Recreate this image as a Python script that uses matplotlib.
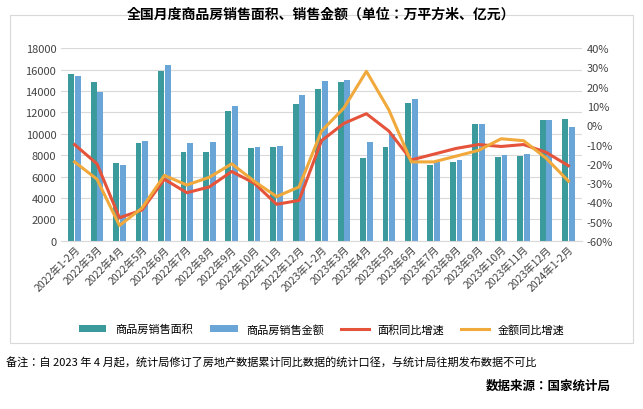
import matplotlib
matplotlib.use("Agg")
import matplotlib.pyplot as plt
import numpy as np
from matplotlib.ticker import FuncFormatter
from matplotlib import font_manager

names = {f.name for f in font_manager.fontManager.ttflist}
cands = [n for n in ["Noto Sans CJK SC", "Noto Sans CJK JP", "Noto Sans CJK TC", "Noto Sans CJK KR", "Noto Sans SC"] if n in names]
if not cands:
    cands = [f.name for f in font_manager.fontManager.ttflist if "CJK" in f.name][:1]
plt.rcParams['font.family'] = cands + ['DejaVu Sans']

categories = ["2022年1-2月","2022年3月","2022年4月","2022年5月","2022年6月","2022年7月","2022年8月","2022年9月","2022年10月","2022年11月","2022年12月",
              "2023年1-2月","2023年3月","2023年4月","2023年5月","2023年6月","2023年7月","2023年8月","2023年9月","2023年10月","2023年11月","2023年12月","2024年1-2月"]
area = [15600,14800,7300,9100,15900,8300,8300,12100,8700,8800,12800,14200,14800,7700,8800,12900,7100,7400,10900,7800,7900,11300,11400]
sales = [15400,13900,7100,9300,16400,9100,9200,12600,8800,8900,13600,14900,15000,9200,10000,13300,7400,7600,10900,8000,8100,11300,10600]
area_yoy = [-10,-20,-48,-44,-28,-35,-32,-24,-30,-41,-39,-8,1,6,-3,-18,-15,-12,-10,-11,-10,-14,-21]
sales_yoy = [-19,-28,-52,-43,-26,-31,-27,-20,-29,-37,-32,-3,9,28,8,-19,-19,-16,-13,-7,-8,-17,-29]

fig = plt.figure(figsize=(6.43,4.10), dpi=100)
ax = fig.add_axes([0.095, 0.41, 0.81, 0.47])
x = np.arange(len(categories))
w = 0.26
b1 = ax.bar(x - 0.15, area, w, color='#3a9a9c', label='商品房销售面积', zorder=2)
b2 = ax.bar(x + 0.15, sales, w, color='#6aa5d8', label='商品房销售金额', zorder=2)
ax.set_ylim(0, 18000)
ax.set_yticks(range(0, 18001, 2000))
ax.set_xlim(-0.6, len(categories)-0.4)
ax.grid(axis='y', color='#d9d9d9', lw=0.8, zorder=0)
ax.set_xticks(x)
ax.set_xticklabels(categories, rotation=45, ha='right', rotation_mode='anchor', fontsize=7.5, color='#444')
ax.tick_params(axis='y', labelsize=8, colors='#444', length=0)
ax.tick_params(axis='x', length=0, pad=2)
for s in ax.spines.values():
    s.set_visible(False)
ax.spines['bottom'].set_visible(True); ax.spines['bottom'].set_color('#d9d9d9')

ax2 = ax.twinx()
l1, = ax2.plot(x, area_yoy, color='#e5533a', lw=2.2, label='面积同比增速')
l2, = ax2.plot(x, sales_yoy, color='#f2a93b', lw=2.2, label='金额同比增速')
ax2.set_ylim(-60, 40)
ax2.set_yticks(range(-60, 41, 10))
ax2.yaxis.set_major_formatter(FuncFormatter(lambda v, p: f"{int(v)}%"))
ax2.tick_params(axis='y', labelsize=8, colors='#444', length=0)
for s in ax2.spines.values():
    s.set_visible(False)

fig.legend(handles=[b1, b2, l1, l2], loc='center', bbox_to_anchor=(0.5, 0.195), ncol=4, frameon=False, fontsize=8, handlelength=2.5, columnspacing=1.5)
fig.text(0.5, 0.965, "全国月度商品房销售面积、销售金额（单位：万平方米、亿元）", ha='center', va='center', fontsize=10, fontweight='bold')
fig.text(0.01, 0.105, "备注：自 2023 年 4 月起，统计局修订了房地产数据累计同比数据的统计口径，与统计局往期发布数据不可比", fontsize=8)
fig.text(0.95, 0.05, "数据来源：国家统计局", ha='right', fontsize=9, fontweight='bold')
rect = plt.Rectangle((0.015, 0.16), 0.97, 0.8, transform=fig.transFigure, fill=False, ec='#d9d9d9', lw=0.8)
fig.patches.append(rect)
fig.savefig("out.png", dpi=100)
